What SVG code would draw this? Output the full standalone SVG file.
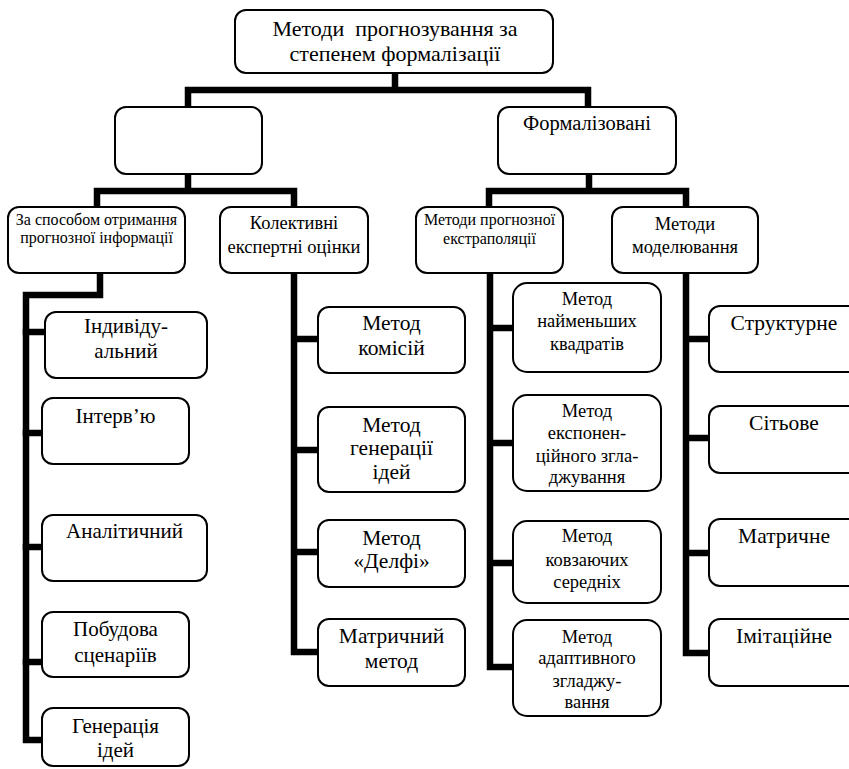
<svg xmlns="http://www.w3.org/2000/svg" width="849" height="769" viewBox="0 0 849 769">
<style>
.box{fill:#fff;stroke:#000;stroke-width:2}
.c{fill:none;stroke:#000;stroke-width:6.5;stroke-linejoin:miter;stroke-linecap:square}
text{font-family:"Liberation Serif","DejaVu Serif","Times New Roman",serif;fill:#000;text-anchor:middle;white-space:pre}
.f22{font-size:22px}.f21{font-size:21px}.f215{font-size:21.5px}.f205{font-size:20.5px}.f185{font-size:18.5px}.f16{font-size:16px}
</style>
<rect width="849" height="769" fill="#fff"/>
<g id="connectors">
<path class="c" d="M395,73V90M188,107V90H588V107"/>
<path class="c" d="M188,174V191M97,207V191H294V207"/>
<path class="c" d="M589,174V191M489,207V191H686V207"/>
<path class="c" d="M100,273V295H26V740H42"/>
<path class="c" d="M26,332H45M26,433H42M26,547H42M26,662H42"/>
<path class="c" d="M294,273V652H318M294,339H318M294,450H318M294,552H318"/>
<path class="c" d="M490,273V667H513M490,328H513M490,443H513M490,563H513"/>
<path class="c" d="M686,273V653H709M686,339H709M686,438H709M686,553H709"/>
</g>
<g font-family="Liberation Serif, DejaVu Serif, serif">
<g id="root"><rect class="box" x="235" y="10" width="318" height="63" rx="11"/>
<text class="f22" x="395" y="36">Методи  прогнозування за</text><text class="f22" x="395" y="61">степенем формалізації</text></g>
<g id="informal"><rect class="box" x="115" y="107" width="147" height="67" rx="11"/></g>
<g id="formal"><rect class="box" x="498" y="107" width="178" height="67" rx="11"/>
<text class="f205" x="587" y="130">Формалізовані</text></g>
<g id="a"><rect class="box" x="8" y="207" width="177" height="66" rx="11"/>
<text class="f16" x="96.5" y="225">За способом отримання</text><text class="f16" x="96.5" y="243">прогнозної інформації</text></g>
<g id="b"><rect class="box" x="220" y="207" width="148" height="66" rx="11"/>
<text class="f185" x="294" y="229">Колективні</text><text class="f185" x="294" y="253">експертні оцінки</text></g>
<g id="c"><rect class="box" x="416" y="207" width="147" height="66" rx="11"/>
<text class="f16" x="489.5" y="225">Методи прогнозної</text><text class="f16" x="489.5" y="244">екстраполяції</text></g>
<g id="d"><rect class="box" x="612" y="207" width="146" height="66" rx="11"/>
<text class="f185" x="685" y="230">Методи</text><text class="f185" x="685" y="253">моделювання</text></g>
<g id="a1"><rect class="box" x="45" y="312" width="162" height="66" rx="11"/>
<text class="f21" x="126" y="333">Індивіду-</text><text class="f21" x="126" y="358">альний</text></g>
<g id="a2"><rect class="box" x="42" y="398" width="147" height="66" rx="11"/>
<text class="f21" x="115.5" y="423">Інтерв’ю</text></g>
<g id="a3"><rect class="box" x="42" y="515" width="165" height="66" rx="11"/>
<text class="f21" x="124.5" y="538">Аналітичний</text></g>
<g id="a4"><rect class="box" x="42" y="612" width="147" height="65" rx="11"/>
<text class="f21" x="115.5" y="636">Побудова</text><text class="f21" x="115.5" y="662">сценаріїв</text></g>
<g id="a5"><rect class="box" x="42" y="708" width="147" height="58" rx="11"/>
<text class="f21" x="115.5" y="733">Генерація</text><text class="f21" x="115.5" y="757">ідей</text></g>
<g id="b1"><rect class="box" x="318" y="307" width="147" height="66" rx="11"/>
<text class="f215" x="391.5" y="330">Метод</text><text class="f215" x="391.5" y="355">комісій</text></g>
<g id="b2"><rect class="box" x="318" y="407" width="147" height="85" rx="11"/>
<text class="f215" x="391.5" y="432">Метод</text><text class="f215" x="391.5" y="455">генерації</text><text class="f215" x="391.5" y="479">ідей</text></g>
<g id="b3"><rect class="box" x="318" y="520" width="147" height="67" rx="11"/>
<text class="f215" x="391.5" y="545">Метод</text><text class="f215" x="391.5" y="568">«Делфі»</text></g>
<g id="b4"><rect class="box" x="318" y="619" width="147" height="67" rx="11"/>
<text class="f215" x="391.5" y="643">Матричний</text><text class="f215" x="391.5" y="668">метод</text></g>
<g id="c1"><rect class="box" x="513" y="283" width="148" height="89" rx="14"/>
<text class="f185" x="587" y="305">Метод</text><text class="f185" x="587" y="327">найменьших</text><text class="f185" x="587" y="350">квадратів</text></g>
<g id="c2"><rect class="box" x="513" y="395" width="148" height="96" rx="14"/>
<text class="f185" x="587" y="417">Метод</text><text class="f185" x="587" y="439">експонен-</text><text class="f185" x="587" y="462">ційного згла-</text><text class="f185" x="587" y="483">джування</text></g>
<g id="c3"><rect class="box" x="513" y="521" width="148" height="82" rx="14"/>
<text class="f185" x="587" y="542">Метод</text><text class="f185" x="587" y="566">ковзаючих</text><text class="f185" x="587" y="588">середніх</text></g>
<g id="c4"><rect class="box" x="513" y="620" width="148" height="96" rx="14"/>
<text class="f185" x="587" y="643">Метод</text><text class="f185" x="587" y="664">адаптивного</text><text class="f185" x="587" y="687">згладжу-</text><text class="f185" x="587" y="708">вання</text></g>
<g id="d1"><rect class="box" x="709" y="306" width="150" height="66" rx="11"/>
<text class="f215" x="784" y="330">Структурне</text></g>
<g id="d2"><rect class="box" x="709" y="406" width="150" height="67" rx="11"/>
<text class="f215" x="784" y="430">Сітьове</text></g>
<g id="d3"><rect class="box" x="709" y="519" width="150" height="67" rx="11"/>
<text class="f215" x="784" y="543">Матричне</text></g>
<g id="d4"><rect class="box" x="709" y="619" width="150" height="67" rx="11"/>
<text class="f215" x="784" y="643">Імітаційне</text></g>
</g>
</svg>
